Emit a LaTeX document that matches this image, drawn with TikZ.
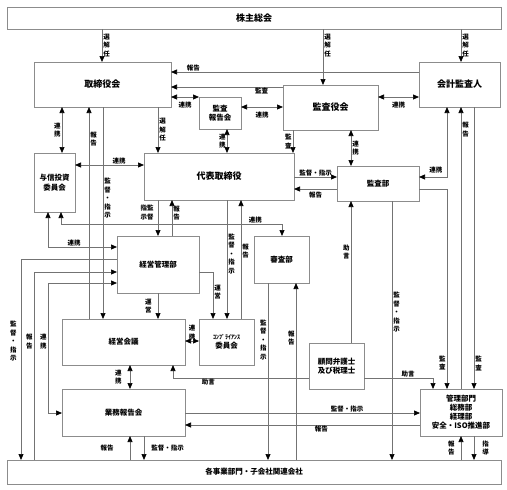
\documentclass[tikz,border=0pt]{standalone}
\usepackage{fontspec}
\newfontfamily\jp{Noto Sans CJK JP}
\usetikzlibrary{arrows.meta, shadows}

\begin{document}
\begin{tikzpicture}[x=1pt, y=-1pt,
    >={Triangle[length=6pt, width=5pt, color=black]},
    box/.style={rectangle, draw=black!45, line width=0.6pt, fill=white,
            inner sep=0pt, outer sep=0pt, align=center,
            font=\jp\bfseries\fontsize{7.5}{9.5}\selectfont,
            drop shadow={shadow xshift=1.2pt, shadow yshift=-1.2pt, fill=black, opacity=1}},
    bigbox/.style={box, font=\jp\bfseries\fontsize{9}{11}\selectfont},
    line/.style={draw=black!55, line width=0.7pt},
    arr/.style={line, ->},
    darr/.style={line, <->},
    lbl/.style={font=\jp\bfseries\fontsize{6.5}{8.5}\selectfont, inner sep=1pt, align=center},
    ]
    \useasboundingbox (0,0) rectangle (507,490);

    % boxes
    \node[bigbox, minimum width=494pt, minimum height=22pt] (kabunushi) at (254,18) {株主総会};
    \node[bigbox, minimum width=137pt, minimum height=45pt] (torishimari) at (102.5,84.5) {取締役会};
    \node[bigbox, minimum width=81pt, minimum height=45pt] (kaikei) at (459.5,84.5) {会計監査人};
    \node[box, minimum width=42pt, minimum height=32pt] (kansahoukoku) at (220,113) {監査\\報告会};
    \node[bigbox, minimum width=95pt, minimum height=45pt] (kansayaku) at (330.5,107.5) {監査役会};
    \node[box, minimum width=41pt, minimum height=59pt] (yoshin) at (54.5,182.5) {与信投資\\委員会};
    \node[bigbox, minimum width=150pt, minimum height=47pt] (daihyo) at (219,176.5) {代表取締役};
    \node[box, minimum width=82pt, minimum height=35pt] (kansabu) at (378,183.5) {監査部};
    \node[box, minimum width=82pt, minimum height=57pt] (keieikanri) at (158,264.5) {経営管理部};
    \node[box, minimum width=55pt, minimum height=47pt] (shinsa) at (281.5,259.5) {審査部};
    \node[box, minimum width=123pt, minimum height=46pt] (keieikaigi) at (123.5,342) {経営会議};
    \node[box, minimum width=55pt, minimum height=46pt] (compliance) at (226.5,342) {{\fontsize{6}{7}\selectfont ｺﾝﾌﾟﾗｲｱﾝｽ}\\委員会};
    \node[box, minimum width=55pt, minimum height=46pt] (komon) at (336.5,366) {顧問弁護士\\及び税理士};
    \node[box, minimum width=123pt, minimum height=47pt] (gyomu) at (123.5,412.5) {業務報告会};
    \node[box, minimum width=82pt, minimum height=47pt, font=\jp\bfseries\fontsize{7.5}{9}\selectfont] (kanri) at (461,412.5) {管理部門\\総務部\\経理部\\安全・ISO推進部};
    \node[box, minimum width=494pt, minimum height=24pt] (jigyo) at (254,472) {各事業部門・子会社関連会社};

    % shareholders
    \draw[arr] (kabunushi.south -| 102,0) -- node[lbl, right] {選\\解\\任} (torishimari.north -| 102,0);
    \draw[arr] (kabunushi.south -| 323,0) -- node[lbl, right, pos=0.29] {選\\解\\任} (kansayaku.north -| 323,0);
    \draw[arr] (kabunushi.south -| 461,0) -- node[lbl, right] {選\\解\\任} (kaikei.north -| 461,0);

    % board row
    \draw[arr] (kaikei.west |- 0,72) -- node[lbl, above, pos=0.91] {報告} (torishimari.east |- 0,72);
    \draw[arr] (kansayaku.west |- 0,87) -- node[lbl, below, pos=0.19] {監査} (torishimari.east |- 0,87);
    \draw[darr] (torishimari.east |- 0,97) -- node[lbl, below=4pt] {連携} (kansahoukoku.west |- 0,97);
    \draw[darr] (kansahoukoku.east |- 0,107) -- node[lbl, below=4pt] {連携} (kansayaku.west |- 0,107);
    \draw[darr] (kansayaku.east |- 0,97) -- node[lbl, below=4pt] {連携} (kaikei.west |- 0,97);

    % board down
    \draw[darr] (torishimari.south -| 62,0) -- node[lbl, left] {連\\携} (yoshin.north -| 62,0);
    \draw[arr] (keieikaigi.north -| 89,0) -- node[lbl, right, pos=0.85] {報\\告} (torishimari.south -| 89,0);
    \draw[arr] (torishimari.south -| 103,0) -- node[lbl, right, pos=0.43] {監\\督\\・\\指\\示} (keieikaigi.north -| 103,0);
    \draw[arr] (torishimari.south -| 158,0) -- node[lbl, right] {選\\解\\任} (daihyo.north -| 158,0);
    \draw[darr] (kansahoukoku.south -| 227,0) -- node[lbl, left] {連\\携} (daihyo.north -| 227,0);
    \draw[darr] (yoshin.east |- 0,165) -- node[lbl, above, pos=0.64] {連携} (daihyo.west |- 0,165);

    % audit
    \draw[darr] (kansayaku.south -| 351,0) -- node[lbl, right] {連\\携} (kansabu.north -| 351,0);
    \draw[arr] (kansayaku.south -| 293,0) -- node[lbl, left] {監\\査} (daihyo.north -| 293,0);
    \draw[arr] (daihyo.east |- 0,177) -- node[lbl, above] {監督・指示} (kansabu.west |- 0,177);
    \draw[arr] (kansabu.west |- 0,189) -- node[lbl, below=2pt] {報告} (daihyo.east |- 0,189);
    \draw[darr] (kansabu.east |- 0,177) -- node[lbl, above=3pt, pos=0.6] {連携} (447,177) -- (kaikei.south -| 447,0);
    \draw[arr] (kansabu.east |- 0,189) -- (447,189) -- node[lbl, left, pos=0.87] {監\\査} (kanri.north -| 447,0);
    \draw[arr] (kanri.north -| 461,0) -- node[lbl, right, pos=0.92] {報\\告} (kaikei.south -| 461,0);
    \draw[arr] (kaikei.south -| 474,0) -- node[lbl, right, pos=0.91] {監\\査} (kanri.north -| 474,0);
    \draw[arr] (kansabu.south -| 392,0) -- node[lbl, right, pos=0.43] {監\\督\\・\\指\\示} (jigyo.north -| 392,0);

    % advisers
    \draw[arr] (komon.north -| 351,0) -- node[lbl, left, pos=0.64] {助\\言} (kansabu.south -| 351,0);
    \draw[arr] (komon.east |- 0,378) -- node[lbl, above, pos=0.64] {助言} (433,378) -- (kanri.north -| 433,0);
    \draw[arr] (komon.west |- 0,378) -- node[lbl, below, pos=0.74] {助言} (173,378) -- (keieikaigi.south -| 173,0);

    % business report meeting
    \draw[arr] (gyomu.east |- 0,413) -- node[lbl, above, pos=0.69] {監督・指示} (kanri.west |- 0,413);
    \draw[arr] (kanri.west |- 0,425) -- node[lbl, below, pos=0.42] {報告} (gyomu.east |- 0,425);
    \draw[arr] (jigyo.north -| 130,0) -- node[lbl, left=15pt] {報告} (gyomu.south -| 130,0);
    \draw[arr] (gyomu.south -| 144,0) -- node[lbl, right=6pt] {監督・指示} (jigyo.north -| 144,0);
    \draw[darr] (keieikaigi.south -| 130,0) -- node[lbl, left=7pt] {連\\携} (gyomu.north -| 130,0);
    \draw[arr] (jigyo.north -| 461,0) -- node[lbl, left=5pt] {報\\告} (kanri.south -| 461,0);
    \draw[arr] (kanri.south -| 474,0) -- node[lbl, right=7pt] {指\\導} (jigyo.north -| 474,0);

    % left side
    \draw[arr] (keieikanri.west |- 0,259) -- (21,259) -- node[lbl, left=3pt, pos=0.41] {監\\督\\・\\指\\示} (jigyo.north -| 21,0);
    \draw[arr] (jigyo.north -| 34,0) -- node[lbl, left, pos=0.63] {報\\告} (34,272) -- (keieikanri.west |- 0,272);
    \draw[darr] (keieikanri.west |- 0,283) -- (48,283) -- node[lbl, left, pos=0.45] {連\\携} (48,413) -- (gyomu.west |- 0,413);
    \draw[darr] (yoshin.south -| 48,0) -- (48,247) -- node[lbl, above, pos=0.38] {連携} (keieikanri.west |- 0,247);
    \draw[darr] (yoshin.south -| 61,0) -- (61,224) -- node[lbl, above, pos=0.88] {連携} (282,224) -- (shinsa.north -| 282,0);

    % representative director down
    \draw[arr] (daihyo.south -| 158,0) -- node[lbl, left=3pt, pos=0.35] {指監\\示督} (keieikanri.north -| 158,0);
    \draw[arr] (keieikanri.north -| 172,0) -- node[lbl, right, pos=0.64] {報\\告} (daihyo.south -| 172,0);
    \draw[arr] (daihyo.south -| 227,0) -- node[lbl, right, pos=0.45] {監\\督\\・\\指\\示} (compliance.north -| 227,0);
    \draw[arr] (compliance.north -| 241,0) -- node[lbl, right, pos=0.57] {報\\告} (daihyo.south -| 241,0);

    % management dept
    \draw[arr] (keieikanri.south -| 158,0) -- node[lbl, left=5pt] {運\\営} (keieikaigi.north -| 158,0);
    \draw[arr] (keieikanri.east |- 0,272) -- (213,272) -- node[lbl, right, pos=0.43] {運\\営} (compliance.north -| 213,0);
    \draw[darr] (keieikaigi.east |- 0,341) -- node[lbl, above] {連\\携} (compliance.west |- 0,341);

    % screening dept
    \draw[arr] (shinsa.south -| 268,0) -- node[lbl, left, pos=0.32] {監\\督\\・\\指\\示} (jigyo.north -| 268,0);
    \draw[arr] (jigyo.north -| 296,0) -- node[lbl, left, pos=0.69] {報\\告} (shinsa.south -| 296,0);

\end{tikzpicture}
\end{document}
